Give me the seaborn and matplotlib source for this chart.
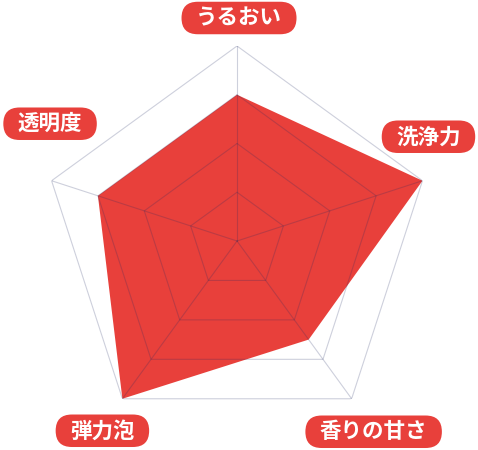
import numpy as np
import matplotlib
matplotlib.use("Agg")
import matplotlib.pyplot as plt
import seaborn as sns
from matplotlib.patches import FancyBboxPatch
from matplotlib.transforms import IdentityTransform

# =========================
# Data
# =========================
labels = ["うるおい", "洗浄力", "香りの甘さ", "弾力泡", "透明度"]
values = [3, 4, 2.5, 4, 3]
levels = [1, 2, 3, 4]

RED = "#e8403b"
GRID = (0.12, 0.16, 0.38, 0.22)

sns.set_theme(style="white")
plt.rcParams["font.family"] = ["Noto Sans CJK JP", "DejaVu Sans"]

fig = plt.figure(figsize=(4.78, 4.5), dpi=100)
ax = fig.add_axes([0.0879, 0.0311, 0.8159, 0.8667], projection="polar")
ax.set_theta_offset(np.pi / 2)
ax.set_theta_direction(-1)
ax.set_ylim(0, levels[-1])
ax.grid(False)
ax.set_xticks([])
ax.set_yticks([])
ax.spines["polar"].set_visible(False)
ax.set_facecolor("none")

n = len(labels)
theta = np.linspace(0, 2 * np.pi, n, endpoint=False)
theta_c = np.append(theta, theta[0])

# filled area
vals = np.append(values, values[0])
ax.fill(theta_c, vals, color=RED, lw=0, zorder=2)

# pentagon grid on top of the fill
for lv in levels:
    ax.plot(theta_c, [lv] * (n + 1), color=GRID, lw=0.8, zorder=3)
for th in theta:
    ax.plot([th, th], [0, levels[-1]], color=GRID, lw=0.8, zorder=3)

# labels (offsets in pixels from outer vertex)
offsets = [(2, 28), (6, 44), (22, -33), (-20, -32), (-1.5, 57)]
texts = []
for th, lab, (dx, dy) in zip(theta, labels, offsets):
    t = ax.annotate(lab, xy=(th, levels[-1]), xytext=(dx, dy),
                    textcoords="offset pixels", ha="center", va="center",
                    color="white", fontsize=15.5, fontweight="bold",
                    zorder=6, annotation_clip=False)
    texts.append(t)

# pill shaped boxes behind the labels
fig.canvas.draw()
renderer = fig.canvas.get_renderer()
hpad, bh = 14.5, 32.5
for t in texts:
    bb = t.get_window_extent(renderer)
    cx, cy = (bb.x0 + bb.x1) / 2, (bb.y0 + bb.y1) / 2
    w = bb.width + 2 * hpad
    box = FancyBboxPatch((cx - w / 2, cy - bh / 2), w, bh,
                         boxstyle=f"round,pad=0,rounding_size={bh / 2}",
                         facecolor=RED, edgecolor="none",
                         transform=IdentityTransform(), zorder=5,
                         clip_on=False)
    ax.add_artist(box)

fig.savefig("out.png", dpi=100, facecolor="white")
